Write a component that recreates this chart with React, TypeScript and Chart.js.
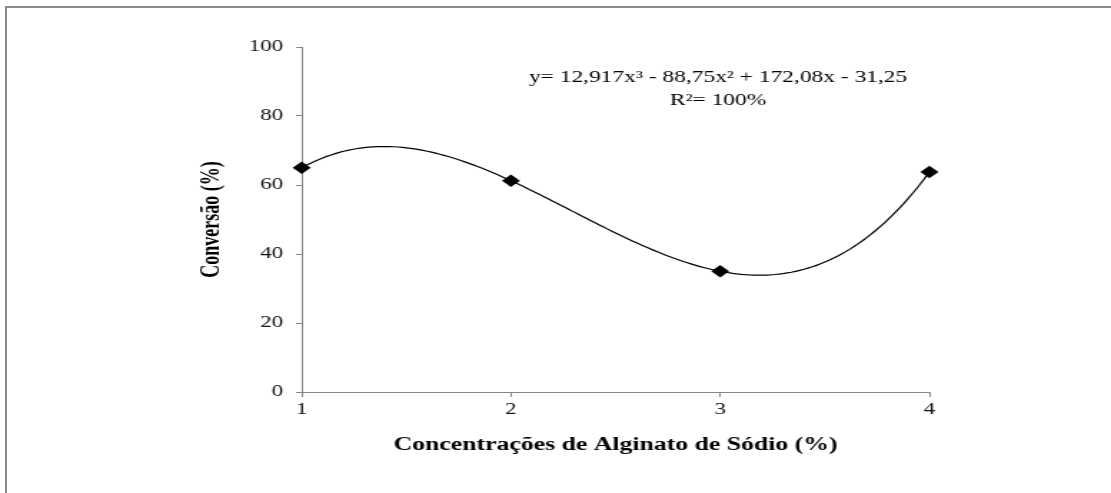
import React, { useEffect, useRef } from "react";
import { Chart, registerables } from "chart.js";

Chart.register(...registerables);

// Measured conversion at each sodium alginate concentration
const concentrations = [1, 2, 3, 4];
const conversion = [65.0, 61.25, 35.0, 63.75];

// Cubic trendline coefficients: x³, x², x, constant
const trendCoefficients = [12.917, -88.75, 172.08, -31.25];

const xTicks = [1, 2, 3, 4];
const yTicks = [0, 20, 40, 60, 80, 100];

const equationText = "y= 12,917x³ - 88,75x² + 172,08x - 31,25";
const r2Text = "R²= 100%";
const xTitle = "Concentrações de Alginato de Sódio (%)";
const yTitle = "Conversão (%)";

const CANVAS_W = 777;
const CANVAS_H = 493;
const STRETCH = 1111 / CANVAS_W;
const SERIF = '"Liberation Serif", "Times New Roman", serif';

function trendValue(x: number): number {
  const [a, b, c, d] = trendCoefficients;
  return a * x * x * x + b * x * x + c * x + d;
}

function trendPoints() {
  const pts: { x: number; y: number }[] = [];
  const steps = 150;
  const x0 = concentrations[0];
  const x1 = concentrations[concentrations.length - 1];
  for (let i = 0; i <= steps; i++) {
    const x = x0 + ((x1 - x0) * i) / steps;
    pts.push({ x, y: trendValue(x) });
  }
  return pts;
}

// Writes the fitted equation and R² above the plot
const equationPlugin = {
  id: "equationLabel",
  afterDraw(chart: any) {
    const { ctx, scales } = chart;
    const cx = scales.x.getPixelForValue(2.99);
    ctx.save();
    ctx.fillStyle = "#000";
    ctx.font = `16.4px ${SERIF}`;
    ctx.textAlign = "center";
    ctx.textBaseline = "middle";
    ctx.fillText(equationText, cx, scales.y.getPixelForValue(91));
    ctx.fillText(r2Text, cx, scales.y.getPixelForValue(84.3));
    ctx.restore();
  },
};

export default function App() {
  const canvasRef = useRef<HTMLCanvasElement | null>(null);

  useEffect(() => {
    const canvas = canvasRef.current;
    if (!canvas) return;
    const axisGray = "#868686";

    const chart = new Chart(canvas, {
      type: "scatter",
      data: {
        datasets: [
          {
            type: "line",
            data: trendPoints(),
            borderColor: "#000",
            borderWidth: 1.2,
            pointRadius: 0,
            fill: false,
            tension: 0,
            order: 2,
          },
          {
            data: concentrations.map((x, i) => ({ x, y: conversion[i] })),
            pointStyle: "rectRot",
            pointRadius: 6.3,
            backgroundColor: "#000",
            borderColor: "#000",
            borderWidth: 0,
            clip: false,
            order: 1,
          },
        ],
      },
      options: {
        animation: false,
        responsive: false,
        maintainAspectRatio: false,
        layout: { padding: { left: 0, top: 47, right: 127, bottom: 0 } },
        plugins: {
          legend: { display: false },
          tooltip: { enabled: false },
        },
        scales: {
          x: {
            type: "linear",
            min: 1,
            max: 4,
            afterBuildTicks: (scale: any) => {
              scale.ticks = xTicks.map((v) => ({ value: v }));
            },
            afterFit: (scale: any) => {
              scale.height = 101;
            },
            grid: {
              drawOnChartArea: false,
              color: axisGray,
              tickLength: 5,
            },
            border: { color: axisGray, width: 1 },
            ticks: {
              color: "#111",
              font: { family: SERIF, size: 16 },
              padding: 3,
              maxRotation: 0,
            },
            title: {
              display: true,
              text: xTitle,
              color: "#000",
              font: { family: SERIF, size: 18, weight: "bold" },
              padding: { top: 0, bottom: 37 },
            },
          },
          y: {
            type: "linear",
            min: 0,
            max: 100,
            afterBuildTicks: (scale: any) => {
              scale.ticks = yTicks.map((v) => ({ value: v }));
            },
            afterFit: (scale: any) => {
              scale.width = 211;
            },
            grid: {
              drawOnChartArea: false,
              color: axisGray,
              tickLength: 4,
            },
            border: { color: axisGray, width: 1 },
            ticks: {
              color: "#111",
              font: { family: SERIF, size: 16 },
              padding: 9,
            },
            title: {
              display: true,
              text: yTitle,
              color: "#000",
              font: { family: SERIF, size: 18, weight: "bold" },
              padding: { top: 138, bottom: 0 },
            },
          },
        },
      },
      plugins: [equationPlugin],
    } as any);

    return () => chart.destroy();
  }, []);

  return (
    <div
      style={{
        position: "fixed",
        left: 0,
        top: 0,
        width: 1111,
        height: 493,
        overflow: "hidden",
        background: "#fff",
      }}
    >
      <div
        style={{
          position: "absolute",
          left: 5,
          top: 6,
          width: 1106,
          height: 487,
          boxSizing: "border-box",
          borderTop: "2px solid #8a8a8a",
          borderLeft: "2px solid #8a8a8a",
        }}
      />
      <div
        style={{
          position: "absolute",
          left: 0,
          top: 0,
          width: CANVAS_W,
          height: CANVAS_H,
          transform: `scaleX(${STRETCH})`,
          transformOrigin: "0 0",
        }}
      >
        <canvas
          ref={canvasRef}
          width={CANVAS_W}
          height={CANVAS_H}
          style={{ display: "block" }}
        />
      </div>
    </div>
  );
}
